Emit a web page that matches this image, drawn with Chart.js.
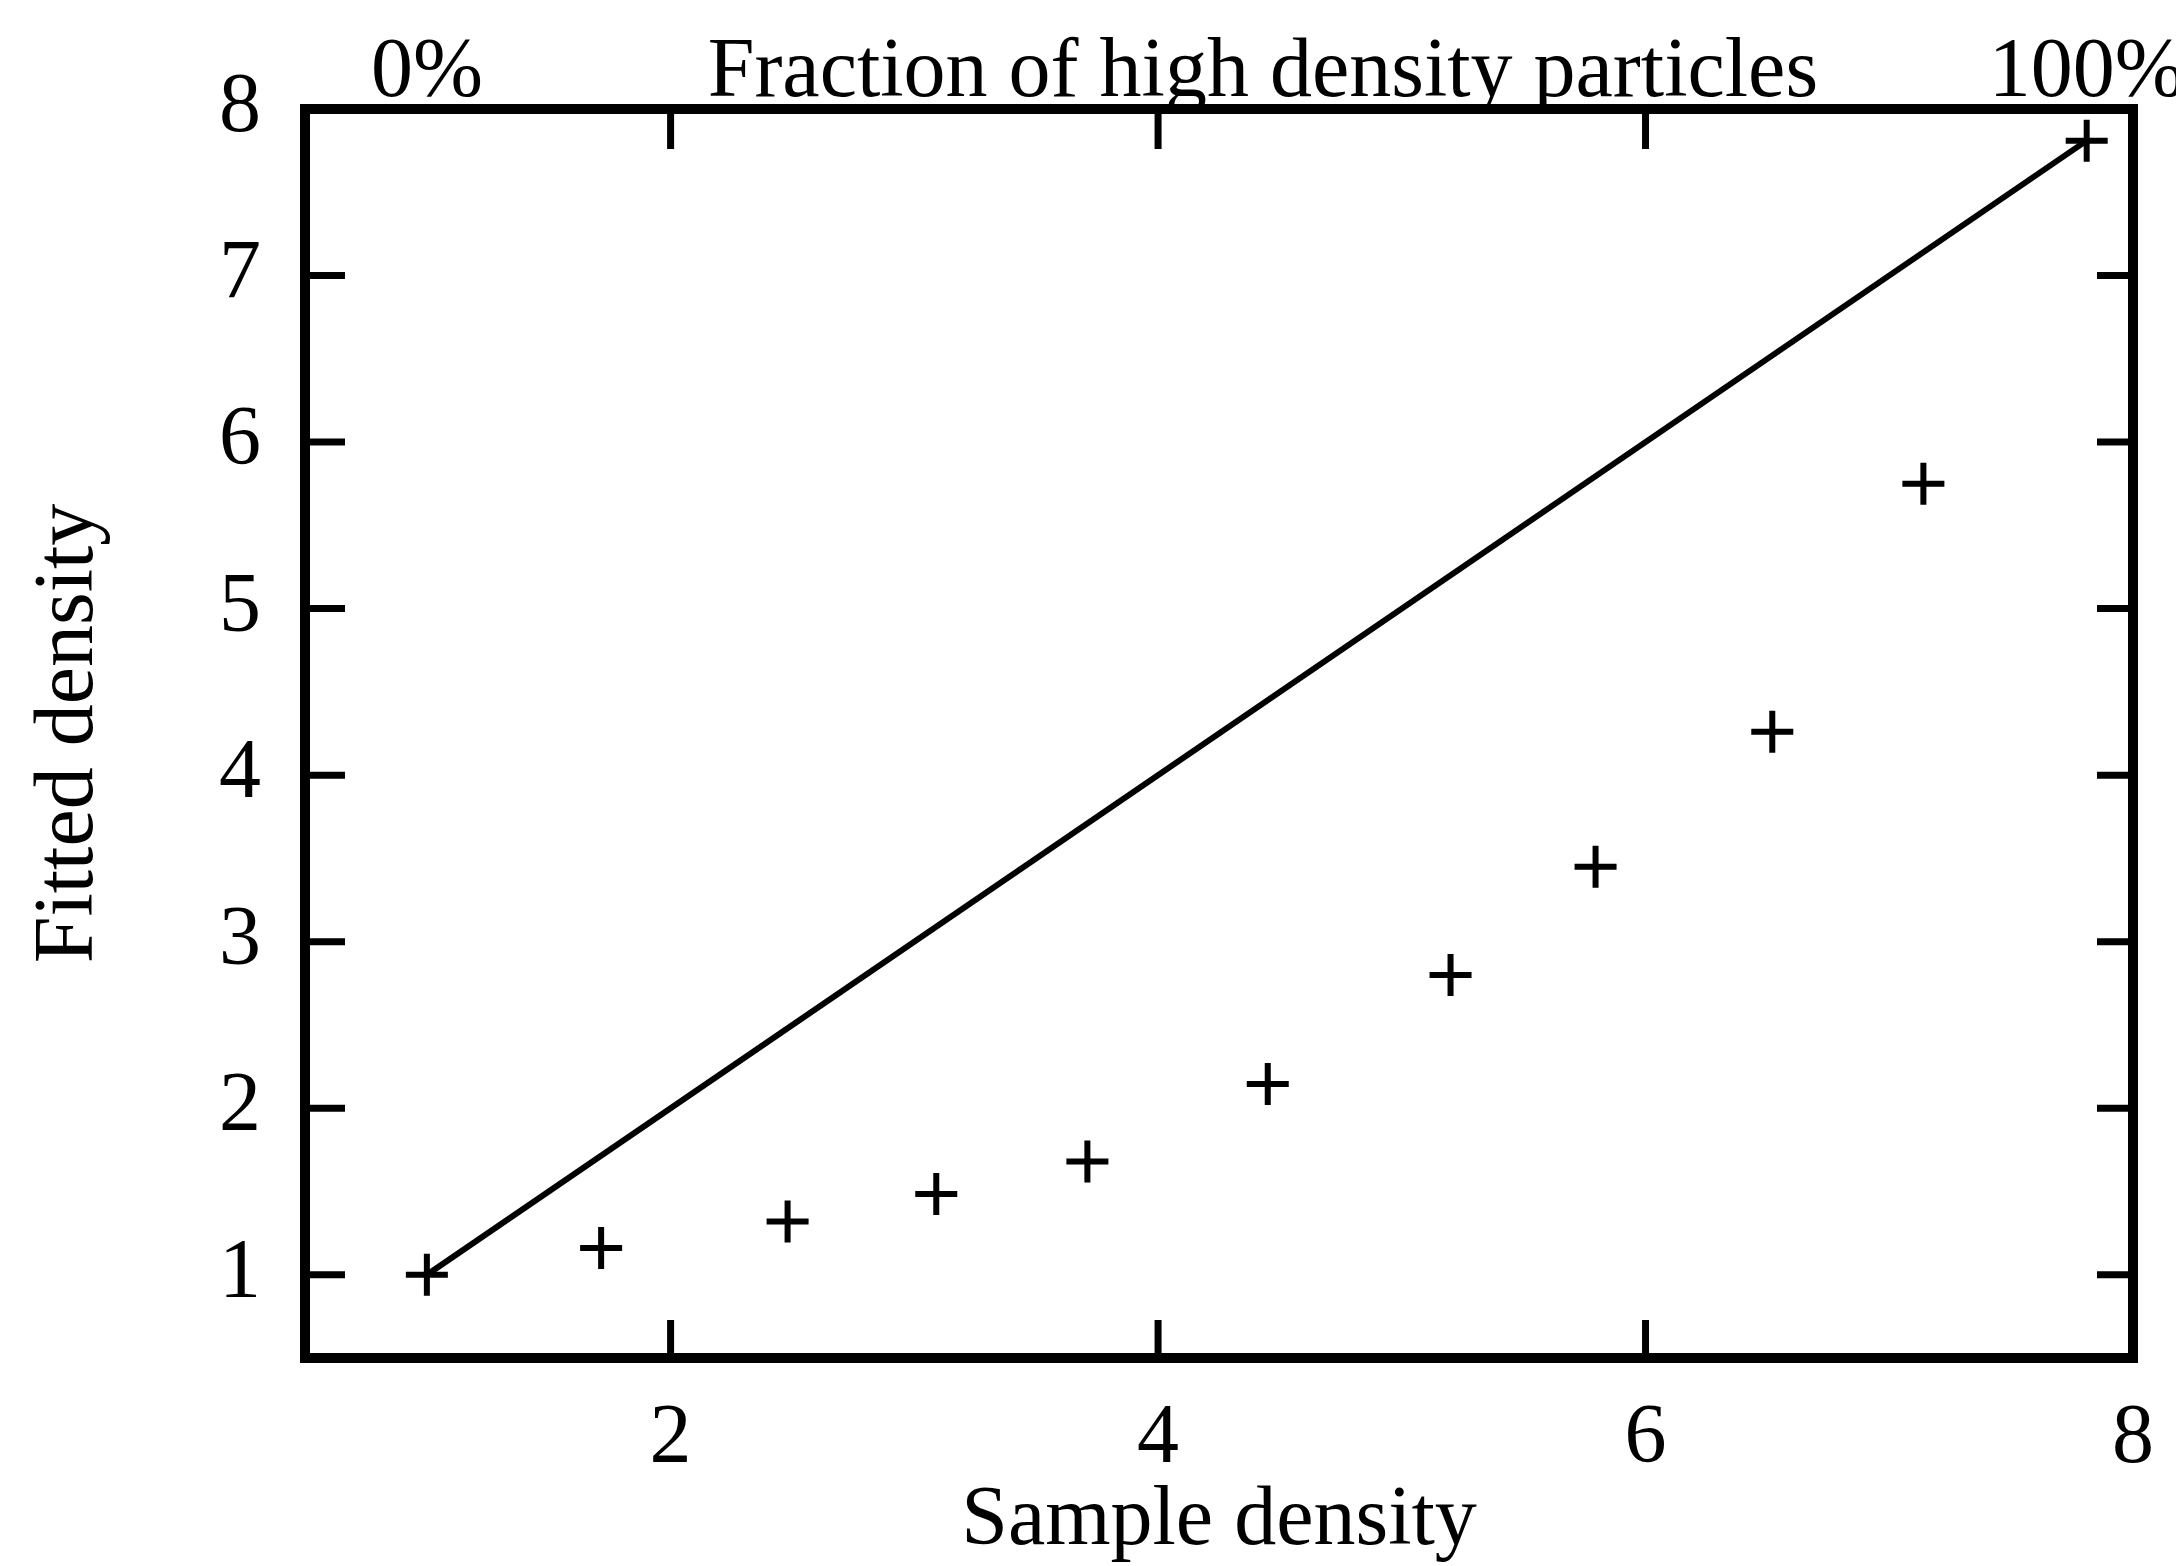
<!DOCTYPE html>
<html>
<head>
<meta charset="utf-8">
<script src="https://cdn.jsdelivr.net/npm/chart.js@4/dist/chart.umd.min.js"></script>
<style>
  html, body { margin: 0; padding: 0; background: #fff; }
  canvas { display: block; }
</style>
</head>
<body>
<canvas id="c" width="2176" height="1566"></canvas>
<script>
// ---- data ----
const sampleDensity = [1.0, 1.715, 2.48, 3.09, 3.71, 4.45, 5.20, 5.795, 6.52, 7.14, 7.81];
const fittedDensity = [1.0, 1.16, 1.32, 1.485, 1.68, 2.145, 2.80, 3.45, 4.26, 5.75, 7.81];
const identityLineX = [1.0, 7.81];
const identityLineY = [1.0, 7.81];
const xTickValues = [2, 4, 6, 8];
const yTickValues = [1, 2, 3, 4, 5, 6, 7, 8];
const topLabelValues = [1.0, 4.43, 7.81];
const topLabels = ['0%', 'Fraction of high density particles', '100%'];
const xTitle = 'Sample density';
const yTitle = 'Fitted density';
const axisMin = 0.5;
const axisMax = 8;

const FAMILY = "'Liberation Serif', 'Times New Roman', serif";
const font = { family: FAMILY, size: 84, lineHeight: 1 };

const pointData = sampleDensity.map((x, i) => ({ x: x, y: fittedDensity[i] }));
const lineData = identityLineX.map((x, i) => ({ x: x, y: identityLineY[i] }));

const frameTicks = {
  id: 'frameTicks',
  afterDatasetsDraw(chart) {
    const { ctx, chartArea: a, scales } = chart;
    const xs = scales.x, ys = scales.y;
    ctx.save();
    ctx.strokeStyle = '#000';
    ctx.lineCap = 'butt';
    ctx.lineWidth = 7;
    ctx.beginPath();
    xs.ticks.forEach(t => {
      const px = xs.getPixelForValue(t.value);
      ctx.moveTo(px, a.bottom); ctx.lineTo(px, a.bottom - 38);
      ctx.moveTo(px, a.top); ctx.lineTo(px, a.top + 40);
    });
    ys.ticks.forEach(t => {
      const py = ys.getPixelForValue(t.value);
      ctx.moveTo(a.left, py); ctx.lineTo(a.left + 40, py);
      ctx.moveTo(a.right, py); ctx.lineTo(a.right - 36, py);
    });
    ctx.stroke();
    ctx.lineWidth = 10;
    ctx.strokeRect(a.left, a.top, a.right - a.left, a.bottom - a.top);
    ctx.restore();
  }
};

new Chart(document.getElementById('c'), {
  type: 'scatter',
  data: {
    datasets: [
      {
        label: 'Fitted',
        data: pointData,
        showLine: false,
        pointStyle: 'cross',
        pointRadius: 21,
        pointHoverRadius: 21,
        pointBorderWidth: 6,
        borderColor: '#000',
        backgroundColor: '#000',
        clip: false
      },
      {
        label: 'Identity',
        data: lineData,
        showLine: true,
        pointRadius: 0,
        borderWidth: 6,
        borderColor: '#000',
        fill: false,
        tension: 0
      }
    ]
  },
  options: {
    responsive: false,
    animation: false,
    events: [],
    layout: { padding: { left: 0, right: 43, top: 0, bottom: 0 } },
    plugins: { legend: { display: false }, tooltip: { enabled: false } },
    scales: {
      x: {
        type: 'linear', position: 'bottom', min: axisMin, max: axisMax,
        grid: { display: false, drawTicks: false },
        border: { display: false },
        afterBuildTicks: s => { s.ticks = xTickValues.map(v => ({ value: v })); },
        afterFit: s => { s.height = 208; s.paddingLeft = 0; s.paddingRight = 0; },
        ticks: { color: '#000', font: font, padding: 40, maxRotation: 0, autoSkip: false },
        title: { display: true, text: xTitle, color: '#000', font: font, padding: { top: 0, bottom: 2 } }
      },
      x2: {
        type: 'linear', axis: 'x', position: 'top', min: axisMin, max: axisMax,
        grid: { display: false, drawTicks: false },
        border: { display: false },
        afterBuildTicks: s => { s.ticks = topLabelValues.map(v => ({ value: v })); },
        afterFit: s => { s.height = 109; s.paddingLeft = 0; s.paddingRight = 0; },
        ticks: {
          color: '#000', font: font, padding: -7, maxRotation: 0, autoSkip: false,
          callback: (v, i) => topLabels[i]
        }
      },
      y: {
        type: 'linear', position: 'left', min: axisMin, max: axisMax,
        grid: { display: false, drawTicks: false },
        border: { display: false },
        afterBuildTicks: s => { s.ticks = yTickValues.map(v => ({ value: v })); },
        afterFit: s => { s.width = 305; s.paddingTop = 0; s.paddingBottom = 0; },
        ticks: { color: '#000', font: font, padding: 44, autoSkip: false },
        title: { display: true, text: yTitle, color: '#000', font: font, padding: { top: 28, bottom: 0 } }
      }
    }
  },
  plugins: [frameTicks]
});
</script>
</body>
</html>
